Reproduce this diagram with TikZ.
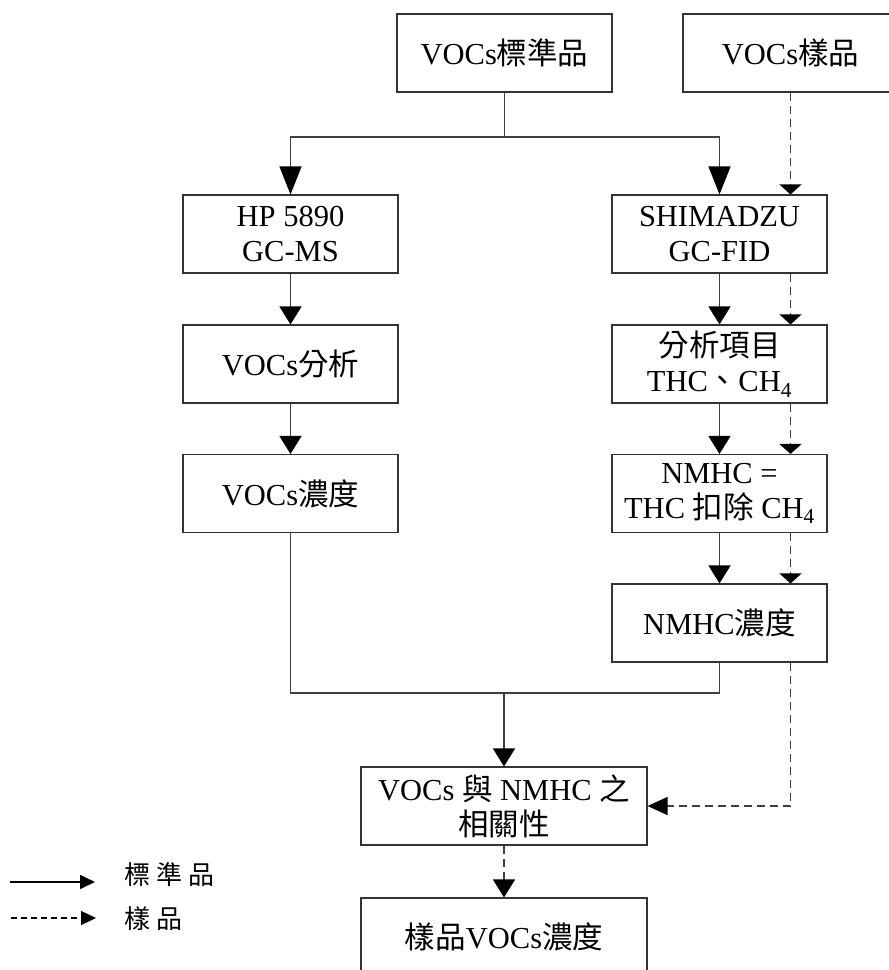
\documentclass[tikz,border=0pt]{standalone}
\usepackage{fontspec}
\setmainfont{Liberation Serif}
\newfontfamily\cjk{Noto Sans CJK TC}
\newcommand{\zh}[1]{{\cjk #1}}
\usetikzlibrary{arrows.meta}
\begin{document}
\begin{tikzpicture}[x=1pt,y=-1pt,
  box/.style={draw=black!80, line width=1.1pt, minimum width=215pt, minimum height=78pt,
    align=center, inner sep=0pt, font=\fontsize{30.5}{35}\selectfont},
  conn/.style={draw=black!75, line width=1.2pt},
  dsh/.style={draw=black!75, line width=1.2pt, dash pattern=on 8pt off 5pt},
  tipbig/.style={-{Triangle[length=28pt,width=22pt,color=black]}},
  tipmid/.style={-{Triangle[length=18pt,width=22pt,color=black]}},
  tipflat/.style={-{Triangle[length=10pt,width=22pt,color=black]}},
  tipleft/.style={-{Triangle[length=20pt,width=18pt,color=black]}},
  tipleg/.style={-{Triangle[length=15pt,width=14pt,color=black]}},
  legtext/.style={anchor=west, inner sep=0pt, font=\fontsize{26}{28}\selectfont\cjk}
]
\useasboundingbox (0,0) rectangle (889,970);

% boxes
\node[box] (std) at (504.5,53) {VOCs\zh{標準品}};
\node[box] (smp) at (790.5,53) {VOCs\zh{樣品}};
\node[box] (hp) at (290.5,234) {HP 5890\\GC-MS};
\node[box] (shim) at (719.5,234) {SHIMADZU\\GC-FID};
\node[box] (ana) at (290.5,364) {VOCs\zh{分析}};
\node[box] (item) at (719.5,364) {\zh{分析項目}\\THC\zh{、}CH\textsubscript{4}};
\node[box] (vconc) at (290.5,493.5) {VOCs\zh{濃度}};
\node[box] (nmeq) at (719.5,493.5) {NMHC =\\THC \zh{扣除} CH\textsubscript{4}};
\node[box] (nconc) at (719.5,623) {NMHC\zh{濃度}};
\node[box, minimum width=286pt] (corr) at (504,806) {VOCs \zh{與} NMHC \zh{之}\\\zh{相關性}};
\node[box, minimum width=286pt] (res) at (504,937) {\zh{樣品}VOCs\zh{濃度}};

% standard (solid) flow
\coordinate (split) at (504.5,137);
\draw[conn] (std.south) -- (split);
\draw[conn, tipbig] (split) -| (hp.north);
\draw[conn, tipbig] (split) -| (shim.north);
\draw[conn, tipmid] (hp) -- (ana);
\draw[conn, tipmid] (ana) -- (vconc);
\draw[conn, tipmid] (shim) -- (item);
\draw[conn, tipmid] (item) -- (nmeq);
\draw[conn, tipmid] (nmeq) -- (nconc);
\coordinate (merge) at (504,693);
\draw[conn] (vconc.south) |- (merge) -| (nconc.south);
\draw[conn, tipmid] (merge) -- (corr.north);

% sample (dashed) flow
\draw[dsh, tipflat] (smp.south) -- ([xshift=71pt]shim.north);
\draw[dsh, tipflat] ([xshift=71pt]shim.south) -- ([xshift=71pt]item.north);
\draw[dsh, tipflat] ([xshift=71pt]item.south) -- ([xshift=71pt]nmeq.north);
\draw[dsh, tipflat] ([xshift=71pt]nmeq.south) -- ([xshift=71pt]nconc.north);
\draw[dsh, tipleft] ([xshift=71pt]nconc.south) |- (corr.east);
\draw[dsh, tipmid] (corr.south) -- (res.north);

% legend
\coordinate (la) at (10,882);
\coordinate (lb) at (95,882);
\coordinate (lc) at (11,918);
\coordinate (ld) at (96,918);
\draw[line width=1.6pt, tipleg] (la) -- (lb);
\draw[line width=1.2pt, dash pattern=on 6pt off 4pt, tipleg] (lc) -- (ld);
\node[legtext] (lt1) at (124,875) {標\hspace{6pt}準\hspace{6pt}品};
\node[legtext] (lt2) at (124,919) {樣\hspace{6pt}品};
\end{tikzpicture}
\end{document}
